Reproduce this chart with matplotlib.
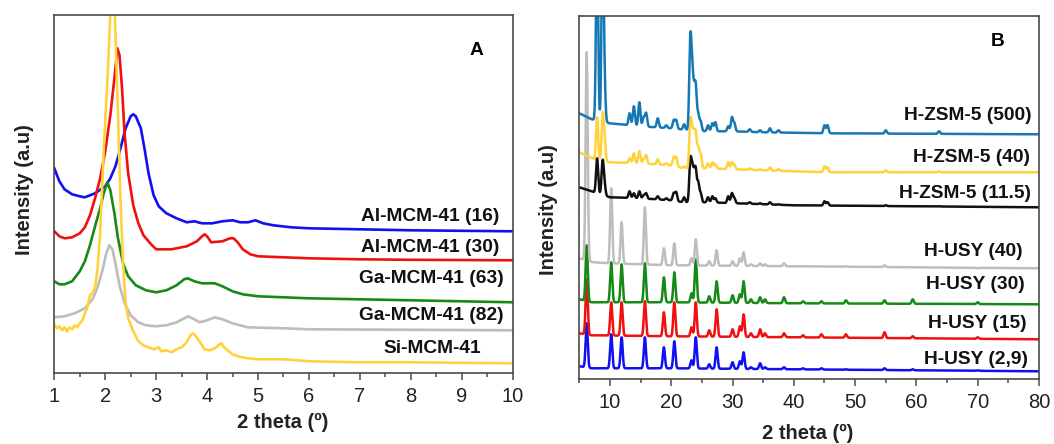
import numpy as np
import matplotlib
matplotlib.use("Agg")
import matplotlib.pyplot as plt
from matplotlib.ticker import MultipleLocator

plt.rcParams['font.family'] = ['Liberation Sans', 'DejaVu Sans']

# ---------------- Panel A: low-angle XRD of MCM-41 materials ----------------
al16_x = [1.0, 1.1, 1.2, 1.35, 1.5, 1.6, 1.8, 2.0, 2.1, 2.2, 2.3, 2.4, 2.5, 2.55, 2.6, 2.7,
          2.78, 2.85, 2.95, 3.05, 3.2, 3.4, 3.6, 3.75, 3.9, 4.1, 4.3, 4.5, 4.65, 4.8, 4.95,
          5.1, 5.3, 5.65, 6.0, 7.0, 8.0, 9.0, 10.0]
al16_y = [205, 192, 184, 179, 177, 176, 180, 187, 195, 207, 225, 245, 257, 259, 257, 245,
          222, 200, 178, 167, 160, 155, 151, 152, 150, 150, 152, 153, 151, 151, 153,
          150, 148, 146, 145, 144, 143, 142.5, 142]

al30_x = [1.0, 1.1, 1.2, 1.35, 1.5, 1.6, 1.7, 1.8, 1.9, 2.0, 2.1, 2.18, 2.24, 2.28, 2.33,
          2.38, 2.45, 2.55, 2.65, 2.75, 2.9, 3.0, 3.3, 3.6, 3.8, 3.9, 3.95, 4.0, 4.08, 4.3,
          4.45, 4.52, 4.6, 4.7, 4.85, 5.0, 5.5, 6.0, 7.0, 8.0, 10.0]
al30_y = [142, 137, 135, 136, 140, 146, 158, 175, 195, 222, 258, 295, 325, 318, 285,
          240, 200, 168, 150, 138, 129, 124, 124, 127, 132, 137, 139, 137, 131, 132,
          135, 135, 131, 124, 119, 117, 116, 115, 114, 113.5, 113]

ga63_x = [1.0, 1.1, 1.2, 1.35, 1.5, 1.6, 1.7, 1.8, 1.9, 1.97, 2.04, 2.1, 2.18, 2.25, 2.35,
          2.45, 2.6, 2.8, 3.0, 3.2, 3.4, 3.55, 3.62, 3.75, 3.9, 4.15, 4.3, 4.5, 4.7, 5.0,
          6.0, 7.0, 8.0, 10.0]
ga63_y = [92, 89, 89, 92, 102, 112, 128, 147, 165, 180, 191, 183, 160, 135, 110,
          97, 88, 83, 81, 83, 88, 94, 95, 92, 90, 90, 87, 82, 79, 77,
          75, 74, 73, 71]

ga82_x = [1.0, 1.2, 1.4, 1.6, 1.75, 1.85, 1.95, 2.02, 2.08, 2.14, 2.2, 2.28, 2.38, 2.5,
          2.65, 2.8, 3.0, 3.2, 3.4, 3.55, 3.63, 3.75, 3.85, 4.0, 4.15, 4.3, 4.5, 4.8,
          5.5, 6.0, 8.0, 10.0]
ga82_y = [56, 57, 60, 65, 74, 86, 104, 120, 128, 124, 110, 88, 70, 58,
          51, 48, 47, 48, 51, 55, 57, 54, 51, 53, 56, 54, 50, 46,
          45, 44, 43.5, 43]

si_x = [1.0, 1.05, 1.1, 1.15, 1.2, 1.25, 1.3, 1.35, 1.4, 1.45, 1.5, 1.55, 1.6, 1.65, 1.7,
        1.75, 1.8, 1.85, 1.9, 1.97, 2.05, 2.15, 2.25, 2.3, 2.35, 2.4, 2.45, 2.55, 2.65,
        2.75, 2.85, 2.95, 3.05, 3.1, 3.2, 3.3, 3.4, 3.5, 3.6, 3.67, 3.72, 3.78, 3.85,
        3.95, 4.05, 4.15, 4.22, 4.28, 4.33, 4.4, 4.5, 4.6, 4.8, 5.0, 5.5, 6.0, 7.0, 8.0, 10.0]
si_y = [49, 45, 47, 43, 46, 42, 46, 44, 48, 46, 50, 53, 60, 66, 78,
        80, 86, 105, 140, 223, 300, 420, 260, 173, 110, 70, 55, 42, 32,
        28, 26, 24, 26, 22, 23, 21, 24, 26, 31, 38, 40, 37, 32,
        24, 23, 25, 28, 30, 26, 23, 19, 17, 15, 14, 14, 12, 11, 11, 10]

series_a = [
    (al16_x, al16_y, '#1010f0', 'Al-MCM-41 (16)', 9.74, 157),
    (al30_x, al30_y, '#f01010', 'Al-MCM-41 (30)', 9.74, 126),
    (ga63_x, ga63_y, '#168a16', 'Ga-MCM-41 (63)', 9.82, 95),
    (ga82_x, ga82_y, '#bdbdbd', 'Ga-MCM-41 (82)', 9.82, 58),
    (si_x, si_y, '#ffd23c', 'Si-MCM-41', 9.37, 25),
]

# ---------------- Panel B: wide-angle XRD of zeolites ----------------
zsm_pos = [7.9, 8.8, 9.1, 13.2, 13.9, 14.8, 15.5, 15.9, 17.8, 19.2, 20.4, 20.8, 22.1,
           23.1, 23.4, 23.7, 24.0, 24.4, 24.8, 26.0, 26.7, 27.2, 29.3, 29.9, 30.3,
           32.8, 34.5, 36.1, 37.5, 45.0, 45.5, 55.0, 63.7]
zsm500_h = [450, 450, 292, 266, 273, 277, 262, 266, 261, 254, 259, 259, 255,
            334, 300, 280, 289, 264, 258, 254, 256, 257, 253, 262, 256,
            250, 249, 251, 249, 254, 254, 249, 248]
zsm40_h = [262, 262, 240, 221, 226, 228, 220, 224, 220, 216, 222, 222, 213,
           254, 240, 238, 241, 231, 225, 216, 217, 215, 217, 217, 214,
           211, 210, 212, 210, 213, 212, 209, 208]
zsm11_h = [221, 217, 195, 188, 186, 188, 184, 186, 183, 181, 186, 187, 182,
           215, 205, 200, 206, 196, 186, 182, 183, 181, 183, 186, 181,
           177, 176, 177, 175, 178, 177, 174, 173]
zsm500_bx = [5, 7, 10, 15, 20, 23, 26, 30, 35, 45, 80]
zsm500_by = [266, 260, 256, 253, 251, 249, 248, 248, 247, 246, 245]
zsm40_bx = [5, 7.5, 10, 15, 20, 22, 26, 35, 45, 80]
zsm40_by = [227, 220, 217, 216, 214, 211, 211, 209, 207, 207]
zsm11_bx = [5, 7.5, 10, 15, 20, 22, 26, 40, 80]
zsm11_by = [192, 187, 182, 181, 179, 177, 177, 174, 172]

usy_pos = [6.2, 10.2, 11.9, 15.7, 18.8, 20.5, 23.3, 24.0, 26.2, 27.4, 30.0, 31.2, 31.8,
           33.0, 34.5, 35.3, 38.4, 41.5, 44.5, 48.5, 54.8, 59.4, 70.0]
usy40_h = [327, 191, 157, 172, 131, 136, 121, 140, 118, 129, 118, 121, 127,
           115, 116, 115, 116, 113, 113, 113, 114, 112, 111]
usy30_h = [134, 117, 115, 116, 102, 107, 86, 120, 83, 98, 84, 85, 98,
           80, 82, 80, 82, 78, 78, 79, 79, 80, 77]
usy15_h = [100, 77, 77, 78, 67, 77, 52, 77, 49, 70, 50, 53, 65,
           46, 50, 46, 46, 44, 45, 45, 47, 43, 42]
usy29_h = [56, 45, 42, 42, 32, 38, 19, 42, 15, 32, 17, 18, 27,
           12, 16, 12, 12, 11, 11, 10, 11, 10, 9]
usy40_bx = [5, 7.3, 10, 20, 40, 80]
usy40_by = [121, 117, 116, 114, 113, 111]
usy30_bx = [5, 7, 20, 40, 80]
usy30_by = [80, 77, 77, 76, 75]
usy15_bx = [5, 7, 20, 40, 80]
usy15_by = [46, 44, 43, 42, 40]
usy29_bx = [5, 7, 20, 40, 80]
usy29_by = [13, 11, 11, 10, 8]

series_b = [
    (usy29_bx, usy29_by, usy_pos, usy29_h, '#1010f0', 'H-USY (2,9)', 78.2, 20),
    (usy15_bx, usy15_by, usy_pos, usy15_h, '#f01010', 'H-USY (15)', 77.9, 56),
    (usy30_bx, usy30_by, usy_pos, usy30_h, '#168a16', 'H-USY (30)', 77.7, 95),
    (usy40_bx, usy40_by, usy_pos, usy40_h, '#bdbdbd', 'H-USY (40)', 77.4, 128),
    (zsm11_bx, zsm11_by, zsm_pos, zsm11_h, '#111111', 'H-ZSM-5 (11.5)', 78.7, 186),
    (zsm40_bx, zsm40_by, zsm_pos, zsm40_h, '#ffd23c', 'H-ZSM-5 (40)', 78.5, 222),
    (zsm500_bx, zsm500_by, zsm_pos, zsm500_h, '#1578b4', 'H-ZSM-5 (500)', 78.85, 264),
]


def pattern(grid, base_x, base_y, pos, heights, sigma=0.17):
    """Baseline through the anchor points plus a narrow reflection at each position."""
    base = np.interp(grid, base_x, base_y)
    y = base.copy()
    for p, h in zip(pos, heights):
        amp = h - np.interp(p, base_x, base_y)
        y += amp * np.exp(-0.5 * ((grid - p) / sigma) ** 2)
    return y


W, H = 1054, 444
fig = plt.figure(figsize=(W / 100, H / 100), dpi=100)
ax_a = fig.add_axes([54.3 / W, 1 - 373.3 / H, 458.4 / W, 358 / H])
ax_b = fig.add_axes([579.3 / W, 1 - 379.3 / H, 459.7 / W, 363.3 / H])

label_kw = dict(fontsize=13.8, fontweight='bold', color='#111111', ha='right', va='center')

for xs, ys, col, name, lx, ly in series_a:
    ax_a.plot(xs, ys, color=col, lw=1.9, solid_joinstyle='round')
    ax_a.text(lx, ly, name, **label_kw)
ax_a.text(9.28, 323, 'A', fontsize=13.8, fontweight='bold', ha='center', va='center')
ax_a.set_xlim(1, 10)
ax_a.set_ylim(0, 358)
ax_a.xaxis.set_major_locator(MultipleLocator(1))
ax_a.xaxis.set_minor_locator(MultipleLocator(0.5))

grid = np.linspace(5, 80, 7500)
for bx, by, pos, hts, col, name, lx, ly in series_b:
    ax_b.plot(grid, pattern(grid, bx, by, pos, hts), color=col, lw=1.8)
    ax_b.text(lx, ly, name, **label_kw)
ax_b.text(73.3, 338, 'B', fontsize=13.8, fontweight='bold', ha='center', va='center')
ax_b.set_xlim(5, 80)
ax_b.set_ylim(0, 363.3)
ax_b.xaxis.set_major_locator(MultipleLocator(10))
ax_b.xaxis.set_minor_locator(MultipleLocator(5))

for ax in (ax_a, ax_b):
    ax.set_yticks([])
    for s in ax.spines.values():
        s.set_color('#4a4a4a')
        s.set_linewidth(1.2)
    ax.tick_params(axis='x', which='major', direction='out', length=5, width=1.1,
                   color='#4a4a4a', labelsize=14.5, pad=5, labelcolor='#222222')
    ax.tick_params(axis='x', which='minor', direction='out', length=3, width=1.1,
                   color='#4a4a4a')

fig.text(25 / W, 1 - 190 / H, 'Intensity (a.u)', rotation=90, fontsize=14.5,
         fontweight='bold', ha='center', va='center', color='#222222')
fig.text(548 / W, 1 - 210 / H, 'Intensity (a.u)', rotation=90, fontsize=14.5,
         fontweight='bold', ha='center', va='center', color='#222222')
fig.text(283 / W, 1 - 422 / H, '2 theta (º)', fontsize=14.5, fontweight='bold',
         ha='center', va='center', color='#222222')
fig.text(808 / W, 1 - 433 / H, '2 theta (º)', fontsize=14.5, fontweight='bold',
         ha='center', va='center', color='#222222')

fig.savefig('out.png', dpi=100)
